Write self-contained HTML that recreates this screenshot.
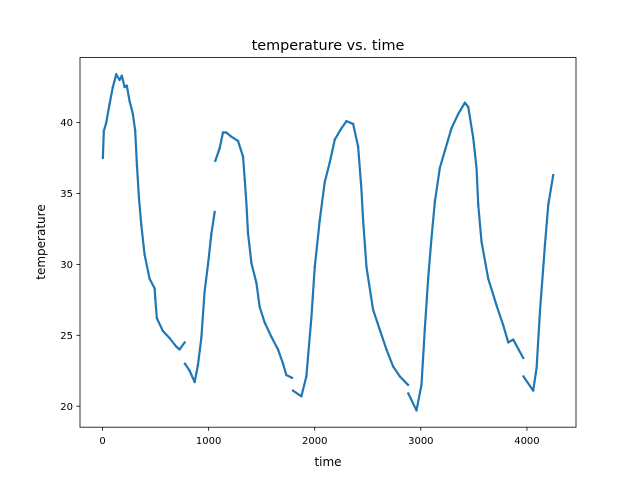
<!DOCTYPE html>
<html><head><meta charset="utf-8"><style>
html,body{margin:0;padding:0;background:#fff;}
svg{display:block;font-family:"DejaVu Sans","Liberation Sans",sans-serif;}
</style></head><body>
<svg id="chart" width="640" height="480" viewBox="0 0 640 480" xmlns="http://www.w3.org/2000/svg">
<rect width="640" height="480" fill="#fff"/>
<text x="328" y="50" font-size="14.4" text-anchor="middle">temperature vs. time</text>
<g id="series"></g>
<g id="axes"></g>
<rect x="80" y="57.6" width="496" height="369.6" fill="none" stroke="#000" stroke-width="0.8"/>
<text x="328" y="466" font-size="12" text-anchor="middle">time</text>
<text x="0" y="0" font-size="12" text-anchor="middle" transform="translate(45,242) rotate(-90)">temperature</text>
</svg>
<script>
const times = [3,12,35,66,97,129,160,182,208,229,255,286,308,324,343,365,396,443,491,497,512,569,632,695,726,774,
  776,821,868,899,931,962,994,1025,1057,
  1063,1104,1135,1167,1214,1277,1324,1340,1356,1371,1403,1450,1481,1528,1591,1654,1701,1732,1786,
  1795,1874,1921,1969,2000,2047,2094,2142,2189,2252,2299,2362,2409,2440,2456,2488,2550,2613,2676,2739,2802,2880,
  2882,2959,3006,3038,3069,3101,3132,3179,3226,3289,3352,3415,3447,3494,3525,3541,3572,3635,3714,3777,3824,3871,3965,
  3967,4059,4091,4123,4170,4201,4248];
const temps = [37.5,39.4,40.0,41.3,42.5,43.4,43.0,43.3,42.5,42.6,41.5,40.6,39.4,37.0,34.7,32.8,30.7,29.0,28.3,27.6,26.2,25.3,24.8,24.2,24.0,24.5,
  23.0,22.5,21.7,22.9,24.8,28.1,30.0,32.1,33.7,
  37.3,38.2,39.3,39.3,39.0,38.7,37.6,36.0,34.3,32.2,30.1,28.7,27.0,25.9,24.9,24.0,23.0,22.2,22.0,
  21.1,20.7,22.1,26.3,29.8,33.1,35.8,37.2,38.8,39.6,40.1,39.9,38.3,35.3,33.1,29.8,26.8,25.4,24.0,22.8,22.1,21.5,
  20.9,19.7,21.5,25.5,29.0,31.9,34.4,36.8,38.0,39.6,40.6,41.4,41.1,38.9,36.8,34.2,31.6,29.0,27.1,25.7,24.5,24.7,23.4,
  22.1,21.1,22.7,26.7,31.4,34.2,36.3];
const segmentStarts = [0,26,35,54,76,99];
const xTicks = [0,1000,2000,3000,4000];
const yTicks = [20,25,30,35,40];

const L=80,R=576,T=57.6,B=427.2;
const xMin=-212.5,xMax=4462.5,yMin=18.52,yMax=44.58;
const xs=v=>L+(v-xMin)/(xMax-xMin)*(R-L);
const ys=v=>B-(v-yMin)/(yMax-yMin)*(B-T);
const NS="http://www.w3.org/2000/svg";
const series=document.getElementById('series');
const axes=document.getElementById('axes');
const col="#1f77b4";
for(let s=0;s<segmentStarts.length;s++){
  const a=segmentStarts[s], b=(s+1<segmentStarts.length?segmentStarts[s+1]:times.length);
  let d="";
  for(let i=a;i<b;i++) d+=(i===a?"M":"L")+xs(times[i]).toFixed(2)+" "+ys(temps[i]).toFixed(2);
  const p=document.createElementNS(NS,'path');
  p.setAttribute('d',d);p.setAttribute('fill','none');p.setAttribute('stroke',col);
  p.setAttribute('stroke-width','2.2');p.setAttribute('stroke-linejoin','round');p.setAttribute('stroke-linecap','round');
  
  
  series.appendChild(p);
}
for(let i=0;i<times.length;i++){
  const c=document.createElementNS(NS,'circle');
  c.setAttribute('cx',xs(times[i]));c.setAttribute('cy',ys(temps[i]));c.setAttribute('r','1.2');c.setAttribute('fill',col);
  
  
  series.appendChild(c);
}
xTicks.forEach(v=>{
  const x=xs(v);
  const l=document.createElementNS(NS,'line');
  l.setAttribute('x1',x);l.setAttribute('x2',x);l.setAttribute('y1',B);l.setAttribute('y2',B+3.5);l.setAttribute('stroke','#000');l.setAttribute('stroke-width','0.8');
  
  
  axes.appendChild(l);
  const t=document.createElementNS(NS,'text');
  t.setAttribute('x',x);t.setAttribute('y',B+17);t.setAttribute('font-size','10');t.setAttribute('text-anchor','middle');
  t.textContent=v;
  
  
  axes.appendChild(t);
});
yTicks.forEach(v=>{
  const y=ys(v);
  const l=document.createElementNS(NS,'line');
  l.setAttribute('x1',L-3.5);l.setAttribute('x2',L);l.setAttribute('y1',y);l.setAttribute('y2',y);l.setAttribute('stroke','#000');l.setAttribute('stroke-width','0.8');
  
  
  axes.appendChild(l);
  const t=document.createElementNS(NS,'text');
  t.setAttribute('x',L-7);t.setAttribute('y',y+3.6);t.setAttribute('font-size','10');t.setAttribute('text-anchor','end');
  t.textContent=v;
  
  
  axes.appendChild(t);
});
</script>
</body></html>
